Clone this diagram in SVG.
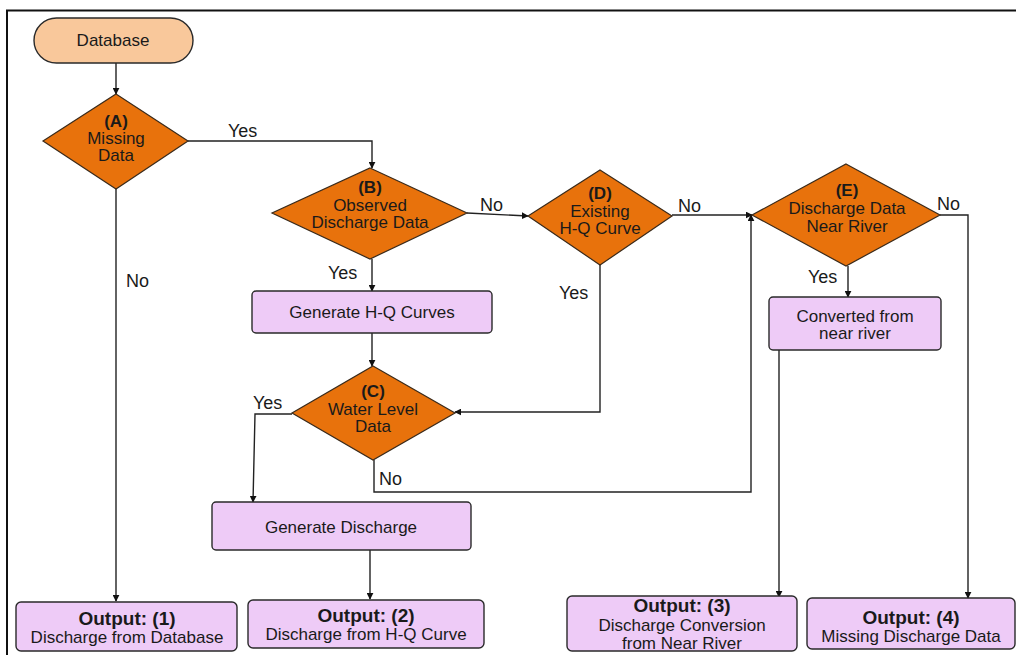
<svg xmlns="http://www.w3.org/2000/svg" width="1016" height="655" viewBox="0 0 1016 655">
  <defs>
    <marker id="arr" viewBox="0 0 10 10" refX="9" refY="5" markerWidth="7" markerHeight="7" orient="auto-start-reverse" markerUnits="userSpaceOnUse">
      <path d="M0,0 L10,5 L0,10 z" fill="#111"/>
    </marker>
    <style>
      text { font-family: "Liberation Sans", Arial, sans-serif; fill: #1a1a1a; text-anchor: middle; }
      .dec { fill: #E8720C; stroke: #3a2a1a; stroke-width: 1.2; }
      .box { fill: #EECBF7; stroke: #2a2a2a; stroke-width: 1.4; }
      .pill { fill: #F9C89B; stroke: #2a2a2a; stroke-width: 1.4; }
      .t { font-size: 17px; }
      .b { font-size: 17px; font-weight: bold; }
      .ob { font-size: 19px; font-weight: bold; }
      .lbl { font-size: 18px; text-anchor: start; }
      .ln { fill: none; stroke: #222; stroke-width: 1.4; }
    </style>
  </defs>
  <rect width="1016" height="655" fill="#fff"/>
  <!-- frame -->
  <path d="M7,655 V10.5 H1016" fill="none" stroke="#111" stroke-width="2"/>

  <!-- connectors -->
  <g id="connectors">
    <path class="ln" d="M116,63 V94" marker-end="url(#arr)"/>
    <path class="ln" d="M188,141 H372 V168" marker-end="url(#arr)"/>
    <path class="ln" d="M116,189 V601" marker-end="url(#arr)"/>
    <path class="ln" d="M467,213 L528,216" marker-end="url(#arr)"/>
    <path class="ln" d="M672,215 H752" marker-end="url(#arr)"/>
    <path class="ln" d="M372,259 V291" marker-end="url(#arr)"/>
    <path class="ln" d="M372,333 V366" marker-end="url(#arr)"/>
    <path class="ln" d="M600,265 V412 H455" marker-end="url(#arr)"/>
    <path class="ln" d="M292,414 H255 L253,502" marker-end="url(#arr)"/>
    <path class="ln" d="M374,460 V492 H751 V215" marker-end="url(#arr)"/>
    <path class="ln" d="M370,550 V599" marker-end="url(#arr)"/>
    <path class="ln" d="M848,266 V297" marker-end="url(#arr)"/>
    <path class="ln" d="M779,350 V597" marker-end="url(#arr)"/>
    <path class="ln" d="M940,215 H968 V598" marker-end="url(#arr)"/>
    <text class="lbl" x="228" y="137">Yes</text>
    <text class="lbl" x="126" y="287">No</text>
    <text class="lbl" x="480" y="211">No</text>
    <text class="lbl" x="678" y="212">No</text>
    <text class="lbl" x="937" y="210">No</text>
    <text class="lbl" x="328" y="279">Yes</text>
    <text class="lbl" x="559" y="299">Yes</text>
    <text class="lbl" x="808" y="283">Yes</text>
    <text class="lbl" x="253" y="409">Yes</text>
    <text class="lbl" x="379" y="485">No</text>
  </g>

  <g id="database">
    <rect class="pill" x="34" y="18" width="159" height="45" rx="22.5"/>
    <text class="t" x="113" y="46">Database</text>
  </g>

  <g id="decisionA">
    <polygon class="dec" points="116,94 188,141 116,189 43,141"/>
    <text class="b" x="116" y="127">(A)</text>
    <text class="t" x="116" y="144">Missing</text>
    <text class="t" x="116" y="161">Data</text>
  </g>

  <g id="decisionB">
    <polygon class="dec" points="370,168 467,213 370,259 272,213"/>
    <text class="b" x="370" y="193">(B)</text>
    <text class="t" x="370" y="211">Observed</text>
    <text class="t" x="370" y="228">Discharge Data</text>
  </g>

  <g id="decisionD">
    <polygon class="dec" points="600,170 672,216 600,265 528,216"/>
    <text class="b" x="600" y="199">(D)</text>
    <text class="t" x="600" y="217">Existing</text>
    <text class="t" x="600" y="234">H-Q Curve</text>
  </g>

  <g id="decisionE">
    <polygon class="dec" points="846,164 940,215 846,266 752,215"/>
    <text class="b" x="847" y="196">(E)</text>
    <text class="t" x="847" y="214">Discharge Data</text>
    <text class="t" x="847" y="232">Near River</text>
  </g>

  <g id="generateHQ">
    <rect class="box" x="252" y="291" width="240" height="42" rx="4"/>
    <text class="t" x="372" y="318">Generate H-Q Curves</text>
  </g>

  <g id="decisionC">
    <polygon class="dec" points="373,366 455,413 373,460 292,413"/>
    <text class="b" x="373" y="397">(C)</text>
    <text class="t" x="373" y="415">Water Level</text>
    <text class="t" x="373" y="432">Data</text>
  </g>

  <g id="converted">
    <rect class="box" x="769" y="297" width="172" height="53" rx="4"/>
    <text class="t" x="855" y="322">Converted from</text>
    <text class="t" x="855" y="339">near river</text>
  </g>

  <g id="generateDischarge">
    <rect class="box" x="212" y="502" width="259" height="48" rx="4"/>
    <text class="t" x="341" y="533">Generate Discharge</text>
  </g>

  <g id="output1">
    <rect class="box" x="16" y="602" width="221" height="49" rx="5"/>
    <text class="ob" x="127" y="625">Output: (1)</text>
    <text class="t" x="127" y="643">Discharge from Database</text>
  </g>

  <g id="output2">
    <rect class="box" x="248" y="600" width="236" height="48" rx="5"/>
    <text class="ob" x="366" y="622">Output: (2)</text>
    <text class="t" x="366" y="640">Discharge from H-Q Curve</text>
  </g>

  <g id="output3">
    <rect class="box" x="567" y="596" width="230" height="55" rx="5"/>
    <text class="ob" x="682" y="612">Output: (3)</text>
    <text class="t" x="682" y="631">Discharge Conversion</text>
    <text class="t" x="682" y="649">from Near River</text>
  </g>

  <g id="output4">
    <rect class="box" x="807" y="598" width="208" height="51" rx="5"/>
    <text class="ob" x="911" y="624">Output: (4)</text>
    <text class="t" x="911" y="642">Missing Discharge Data</text>
  </g>
</svg>
